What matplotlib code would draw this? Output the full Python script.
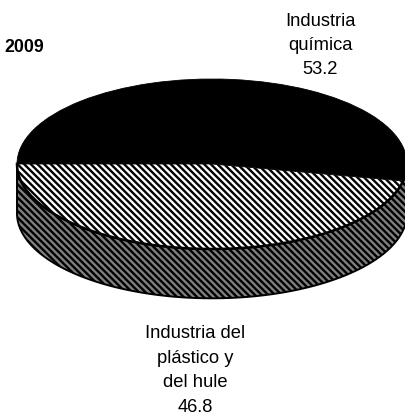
import numpy as np
import matplotlib
matplotlib.use('Agg')
import matplotlib.pyplot as plt

plt.rcParams['font.family'] = ['Liberation Sans', 'DejaVu Sans']
plt.rcParams['hatch.linewidth'] = 1.7

year = '2009'
labels = ['Industria\nquímica\n53.2', 'Industria del\nplástico y\ndel hule\n46.8']
values = [53.2, 46.8]

W, H = 406, 415
fig = plt.figure(figsize=(W / 100, H / 100), dpi=100)
# top ellipse of the disc
ax = fig.add_axes([17 / W, (H - 249) / H, 390 / W, 170 / H])

wedges, _ = ax.pie(values, startangle=180, counterclock=False, radius=1, frame=True,
                   colors=['black', 'white'], wedgeprops={'edgecolor': 'black', 'linewidth': 0.6})
wedges[1].set_hatch('\\' * 5)
wedges[1].set_zorder(3)
wedges[0].set_zorder(3)
ax.set_aspect('auto')
ax.set_xlim(-1, 1)
ax.set_ylim(-1, 1)
ax.axis('off')

# side of the disc
depth = 0.58
t = np.linspace(np.pi, 2 * np.pi, 200)
ax.fill_between(np.cos(t), np.sin(t), np.sin(t) - depth, facecolor='#808080', edgecolor='black',
                hatch='\\' * 5, linewidth=1.4, clip_on=False, zorder=1)
ax.plot(np.cos(t), np.sin(t), color='black', lw=1.8, zorder=4, clip_on=False)

fig.text(4 / W, 1 - 47 / H, year, fontsize=12.8, fontweight='bold', va='center', ha='left')
fig.text(320 / W, 1 - 45.5 / H, labels[0], fontsize=13.2, va='center', ha='center', linespacing=1.55)
fig.text(195.5 / W, 1 - 370.5 / H, labels[1], fontsize=13.2, va='center', ha='center', linespacing=1.58)

fig.savefig('out.png', dpi=100)
